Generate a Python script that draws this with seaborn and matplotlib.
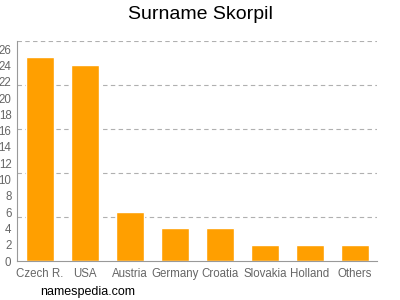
import matplotlib
matplotlib.use("Agg")
import matplotlib.pyplot as plt
import seaborn as sns
import numpy as np
import pandas as pd

countries = ["Czech R.", "USA", "Austria", "Germany", "Croatia", "Slovakia", "Holland", "Others"]
counts = [25, 24, 6, 4, 4, 2, 2, 2]
yticks = list(range(0, 27, 2))

sns.set_style("white")
plt.rcParams['font.family'] = ['Liberation Sans', 'DejaVu Sans']

fig = plt.figure(figsize=(4, 3), dpi=100)
ax = fig.add_axes([0.0425, 0.13, 0.9, 0.7333])
df = pd.DataFrame({"country": countries, "count": counts})
sns.barplot(data=df, x="country", y="count", color="#ff9f00", saturation=1, width=0.62, ax=ax)

ax.set_xlim(-0.51, 7.49)
ax.set_ylim(0, 27)
for g in np.arange(1, 6) * 27 / 5:
    ax.axhline(g, color="#b0b0b0", linestyle=(0, (4, 3)), linewidth=0.8, zorder=0)
ax.set_yticks(yticks)
ax.set_xlabel("")
ax.set_ylabel("")
for s in ["top", "right"]:
    ax.spines[s].set_visible(False)
for s in ["left", "bottom"]:
    ax.spines[s].set_color("#999999")
    ax.spines[s].set_linewidth(0.8)
ax.tick_params(axis="both", colors="#999999", labelcolor="#666666", labelsize=8.3, length=3, width=0.8, pad=1)
ax.tick_params(axis="x", pad=2)

fig.text(0.5, 0.953, "Surname Skorpil", ha="center", va="center", fontsize=14, color="#000000")
fig.text(0.1, 0.027, "namespedia.com", ha="left", va="center", fontsize=9, color="#000000")

fig.savefig("out.png", dpi=100)
